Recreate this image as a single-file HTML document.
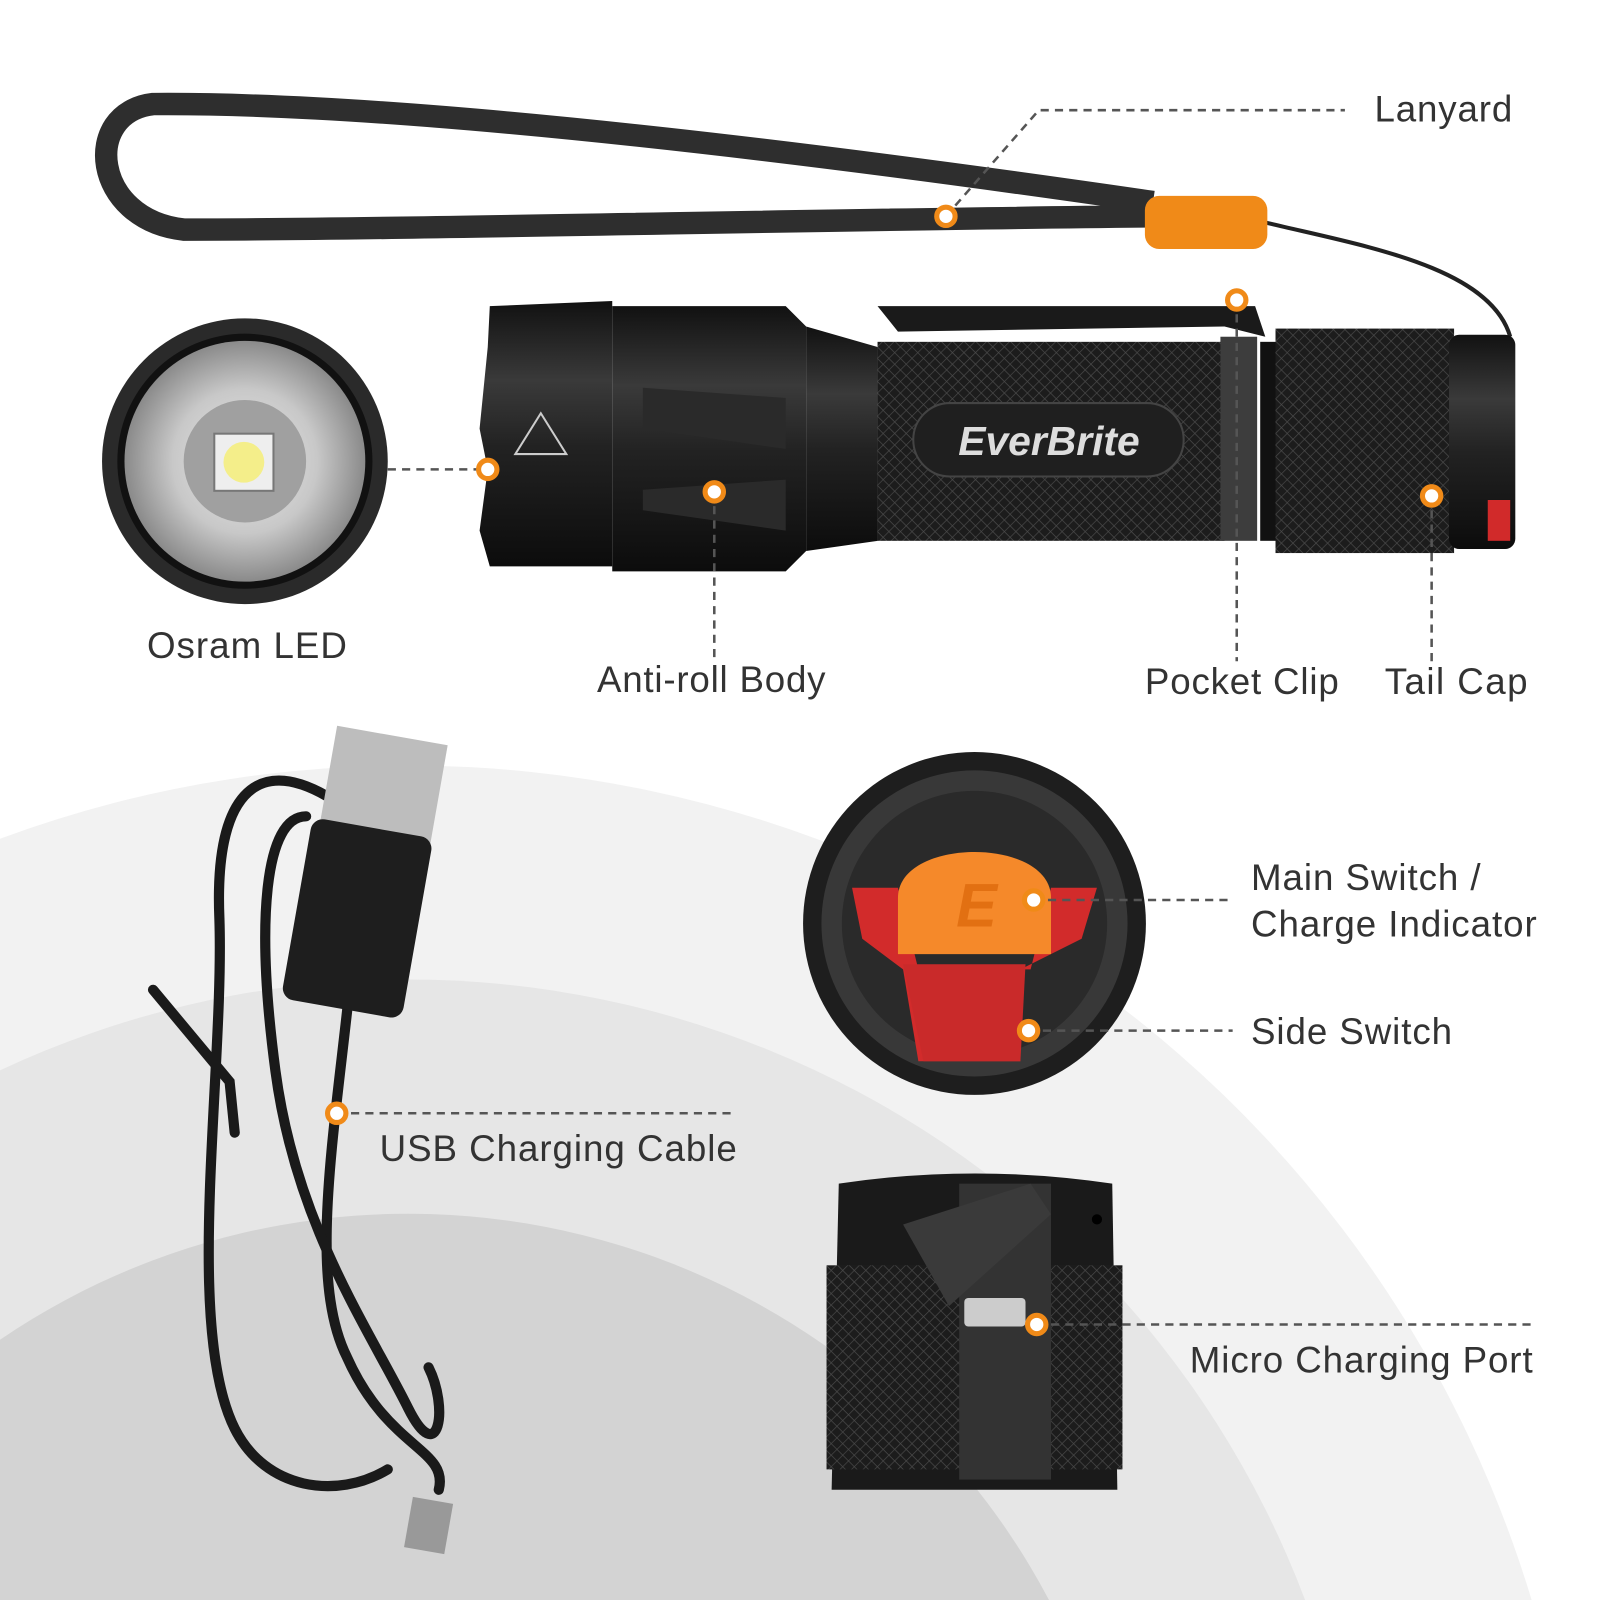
<!DOCTYPE html>
<html><head><meta charset="utf-8"><style>
html,body{margin:0;padding:0;background:#fff;width:1600px;height:1600px;overflow:hidden;position:relative;}
svg{display:block;position:absolute;left:0;top:0;}
text{font-family:"Liberation Sans",sans-serif;fill:#333;font-size:36px;}
</style></head><body>
<svg width="1600" height="1600" viewBox="0 0 1568 1568" xmlns="http://www.w3.org/2000/svg">
<defs>
<linearGradient id="body" x1="0" y1="0" x2="0" y2="1">
<stop offset="0" stop-color="#111"/><stop offset="0.3" stop-color="#3a3a3a"/><stop offset="0.55" stop-color="#222"/><stop offset="1" stop-color="#0c0c0c"/>
</linearGradient>
<pattern id="knurl" width="8" height="8" patternUnits="userSpaceOnUse" patternTransform="rotate(45)">
<rect width="8" height="8" fill="#1c1c1c"/><path d="M0 0H8M0 0V8" stroke="#4a4a4a" stroke-width="1.3"/>
</pattern>
<radialGradient id="led" cx="0.5" cy="0.5" r="0.5">
<stop offset="0" stop-color="#e8e8e8"/><stop offset="0.6" stop-color="#c8c8c8"/><stop offset="1" stop-color="#8a8a8a"/>
</radialGradient>
</defs>
<rect width="1568" height="1568" fill="#fff"/>
<path d="M0 1568 L0 822 A1150 1150 0 0 1 1501 1568 Z" fill="#f2f2f2"/>
<path d="M0 1568 L0 1049 A940 940 0 0 1 1279 1568 Z" fill="#e6e6e6"/>
<path d="M0 1568 L0 1313 A710 710 0 0 1 1028 1568 Z" fill="#d3d3d3"/>

<path d="M1130 212 C 800 215, 400 225, 180 225 C 90 215, 80 110, 150 102 C 400 100, 800 150, 1130 198" fill="none" stroke="#2e2e2e" stroke-width="22"/>
<path d="M1240 218 C 1330 240, 1460 260, 1480 330" fill="none" stroke="#222" stroke-width="4"/>
<rect x="1122" y="192" width="120" height="52" rx="14" fill="#f08a18"/>

<path d="M480 300 L600 295 L600 555 L480 555 L470 520 L478 460 L470 420 L478 340 Z" fill="url(#body)"/>
<path d="M600 300 L770 300 L790 320 L790 540 L770 560 L600 560 Z" fill="url(#body)"/>
<path d="M630 380 L770 390 L770 440 L630 420 Z M630 480 L770 470 L770 520 L630 500Z" fill="#2a2a2a"/>
<path d="M790 320 L860 340 L860 530 L790 540 Z" fill="url(#body)"/>
<rect x="860" y="335" width="340" height="195" fill="url(#knurl)"/>
<path d="M860 300 L1230 300 L1240 330 L1200 320 L880 325 Z" fill="#1a1a1a"/>
<rect x="1196" y="330" width="36" height="200" fill="#3d3d3d"/>
<rect x="1235" y="335" width="20" height="195" fill="#111"/>
<rect x="1250" y="322" width="175" height="220" fill="url(#knurl)"/>
<rect x="1420" y="328" width="65" height="210" rx="10" fill="url(#body)"/>
<rect x="1458" y="490" width="22" height="40" fill="#d12a2a"/>
<rect x="895" y="395" width="265" height="72" rx="36" fill="#1f1f1f" stroke="#444" stroke-width="2"/>
<text x="1028" y="446" text-anchor="middle" style="font-size:40px;font-weight:bold;font-style:italic;fill:#ddd">EverBrite</text>
<path d="M530 405 L555 445 L505 445 Z" fill="none" stroke="#ccc" stroke-width="2"/>

<circle cx="240" cy="452" r="140" fill="#2a2a2a"/>
<circle cx="240" cy="452" r="125" fill="#111"/>
<circle cx="240" cy="452" r="118" fill="url(#led)"/>
<circle cx="240" cy="452" r="60" fill="#a0a0a0"/>
<rect x="210" y="425" width="58" height="56" fill="#eee" stroke="#777" stroke-width="2"/>
<circle cx="239" cy="453" r="20" fill="#f4ee8a"/>

<ellipse cx="955" cy="905" rx="168" ry="168" fill="#1e1e1e"/>
<ellipse cx="955" cy="905" rx="150" ry="150" fill="#383838"/>
<ellipse cx="955" cy="905" rx="130" ry="130" fill="#2a2a2a"/>
<path d="M835 870 L880 870 L900 950 L1010 950 L1030 870 L1075 870 L1060 920 L1000 950 L1000 1040 L900 1040 L885 950 L845 920 Z" fill="#d22b2b"/>
<path d="M885 945 L1005 945 L1000 1040 L905 1040 Z" fill="#c92a2a"/>
<path d="M880 880 C 880 820, 1030 820, 1030 880 L1030 935 L880 935 Z" fill="#f5892a"/>
<text x="937" y="908" style="font-size:60px;font-weight:bold;font-style:italic;fill:#e27012">E</text>

<path d="M822 1160 Q955 1140 1090 1160 L1095 1460 L815 1460 Z" fill="#1a1a1a"/>
<rect x="810" y="1240" width="290" height="200" fill="url(#knurl)"/>
<rect x="940" y="1160" width="90" height="290" fill="#333"/>
<path d="M885 1200 L1010 1160 L1030 1190 L930 1280 Z" fill="#3a3a3a"/>
<rect x="945" y="1272" width="60" height="28" rx="4" fill="#ccc"/>
<circle cx="1075" cy="1195" r="5" fill="#000"/>

<g fill="none" stroke="#1a1a1a" stroke-width="10" stroke-linecap="round">
<path d="M345 945 C 330 1100, 300 1250, 340 1330 C 380 1420, 440 1420, 430 1460"/>
<path d="M320 780 C 250 740, 210 780, 215 900 C 220 1050, 180 1300, 230 1400 C 260 1460, 330 1470, 380 1440"/>
<path d="M300 800 C 260 800, 250 900, 270 1050 C 290 1200, 360 1300, 400 1380 C 430 1440, 440 1380, 420 1340"/>
<path d="M150 970 L225 1060 L230 1110"/>
</g>
<rect x="320" y="720" width="110" height="110" fill="#bdbdbd" transform="rotate(10 375 775)"/>
<rect x="290" y="810" width="120" height="180" rx="12" fill="#1e1e1e" transform="rotate(10 350 900)"/>
<rect x="400" y="1470" width="40" height="50" fill="#999" transform="rotate(10 420 1495)"/>

<g stroke="#555" stroke-width="2.5" stroke-dasharray="8 6" fill="none">
<path d="M927 212 L1018 108 L1318 108"/>
<path d="M380 460 L478 460"/>
<path d="M700 482 L700 645"/>
<path d="M1212 294 L1212 648"/>
<path d="M1403 486 L1403 648"/>
<path d="M1013 882 L1208 882"/>
<path d="M1008 1010 L1208 1010"/>
<path d="M330 1091 L720 1091"/>
<path d="M1016 1298 L1502 1298"/>
</g>
<g fill="#fff" stroke="#f08a18" stroke-width="5">
<circle cx="927" cy="212" r="9"/><circle cx="478" cy="460" r="9"/><circle cx="700" cy="482" r="9"/>
<circle cx="1212" cy="294" r="9"/><circle cx="1403" cy="486" r="9"/><circle cx="1013" cy="882" r="9"/>
<circle cx="1008" cy="1010" r="9"/><circle cx="330" cy="1091" r="9"/><circle cx="1016" cy="1298" r="9"/>
</g>

<text x="1347" y="119" textLength="135">Lanyard</text>
<text x="144" y="645" textLength="196">Osram LED</text>
<text x="585" y="678" textLength="224">Anti-roll Body</text>
<text x="1122" y="680" textLength="190">Pocket Clip</text>
<text x="1357" y="680" textLength="140">Tail Cap</text>
<text x="1226" y="872" textLength="225">Main Switch /</text>
<text x="1226" y="918" textLength="280">Charge Indicator</text>
<text x="1226" y="1023" textLength="197">Side Switch</text>
<text x="372" y="1138" textLength="350">USB Charging Cable</text>
<text x="1166" y="1345" textLength="336">Micro Charging Port</text>
</svg>
</body></html>
